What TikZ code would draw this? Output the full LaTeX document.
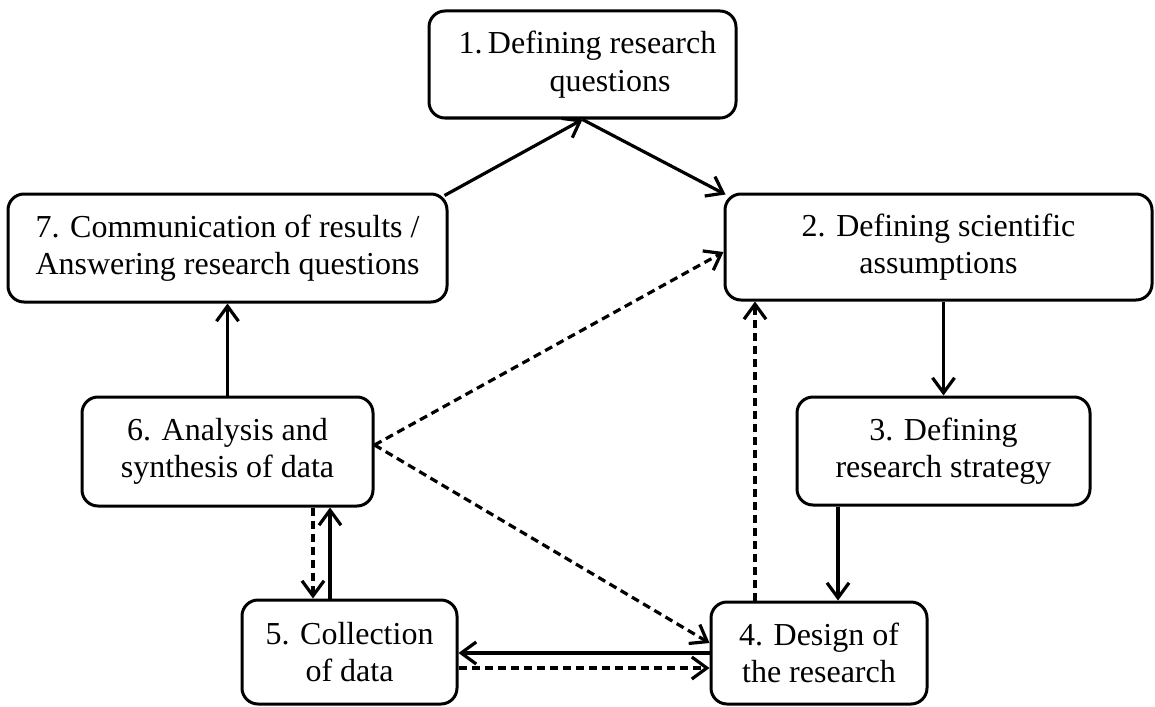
\documentclass[tikz,border=0pt]{standalone}
\usepackage{fontspec}
\setmainfont{Liberation Serif}
\usetikzlibrary{arrows.meta,calc}
\tikzset{
  box/.style={draw, line width=1.5pt, rounded corners=8pt, inner sep=0pt, align=center,
    font=\fontsize{16pt}{18.8pt}\selectfont},
  conn/.style={line width=1.6pt, -{Straight Barb[length=7.5pt,width=11pt]}},
  dconn/.style={conn, dash pattern=on 4pt off 2.5pt}
}
\begin{document}
\begin{tikzpicture}[x=0.5pt,y=-0.5pt]
\useasboundingbox (0,0) rectangle (1155,706);
\node[box, minimum width=153.5pt, minimum height=53.5pt] (b1) at (582.5,64.5)
  {\hspace*{5pt}1.\,Defining research\\\hspace*{27.5pt}questions};
\node[box, minimum width=213.5pt, minimum height=53pt] (b2) at (938.5,247)
  {2. Defining scientific\\assumptions};
\node[box, minimum width=146.5pt, minimum height=54pt] (b3) at (943.5,451)
  {3. Defining\\research strategy};
\node[box, minimum width=108pt, minimum height=51pt] (b4) at (819,653)
  {4. Design of\\the research};
\node[box, minimum width=107.5pt, minimum height=52pt] (b5) at (349.5,652)
  {5. Collection\\of data};
\node[box, minimum width=145.5pt, minimum height=54.5pt] (b6) at (227.5,451.5)
  {6. Analysis and\\synthesis of data};
\node[box, minimum width=219.5pt, minimum height=54pt] (b7) at (227.5,248)
  {7. Communication of results /\\Answering research questions};
\coordinate (c6) at ([yshift=3.25pt]b6.east);
% solid
\draw[conn] ([xshift=-2pt,yshift=-1.5pt]b7.north east) -- (b1.south);
\draw[conn] (b1.south) -- ([xshift=1pt,yshift=-1pt]b2.north west);
\draw[conn] (b2.south -| b3.north) -- (b3.north);
\draw[conn] ([xshift=9.5pt]b4.north |- b3.south) -- ([xshift=9.5pt]b4.north);
\draw[conn] (b6.north) -- (b7.south);
\draw[conn] ([xshift=-9.75pt]b5.north) -- ([xshift=-9.75pt]b5.north |- b6.south);
\draw[conn] (b4.west) -- (b4.west -| b5.east);
% dashed
\draw[dconn] ([xshift=-18.25pt]b6.south -| b5.north) -- ([xshift=-18.25pt]b5.north);
\draw[dconn] ([yshift=-8pt]b5.east) -- ([yshift=-8pt]b5.east -| b4.west);
\draw[dconn] ([xshift=-32pt]b4.north) -- ([xshift=-32pt]b4.north |- b2.south);
\draw[dconn] (c6) -- ([yshift=-2.5pt]b2.west);
\draw[dconn] (c6) -- ([yshift=5pt]b4.west);
\end{tikzpicture}
\end{document}
